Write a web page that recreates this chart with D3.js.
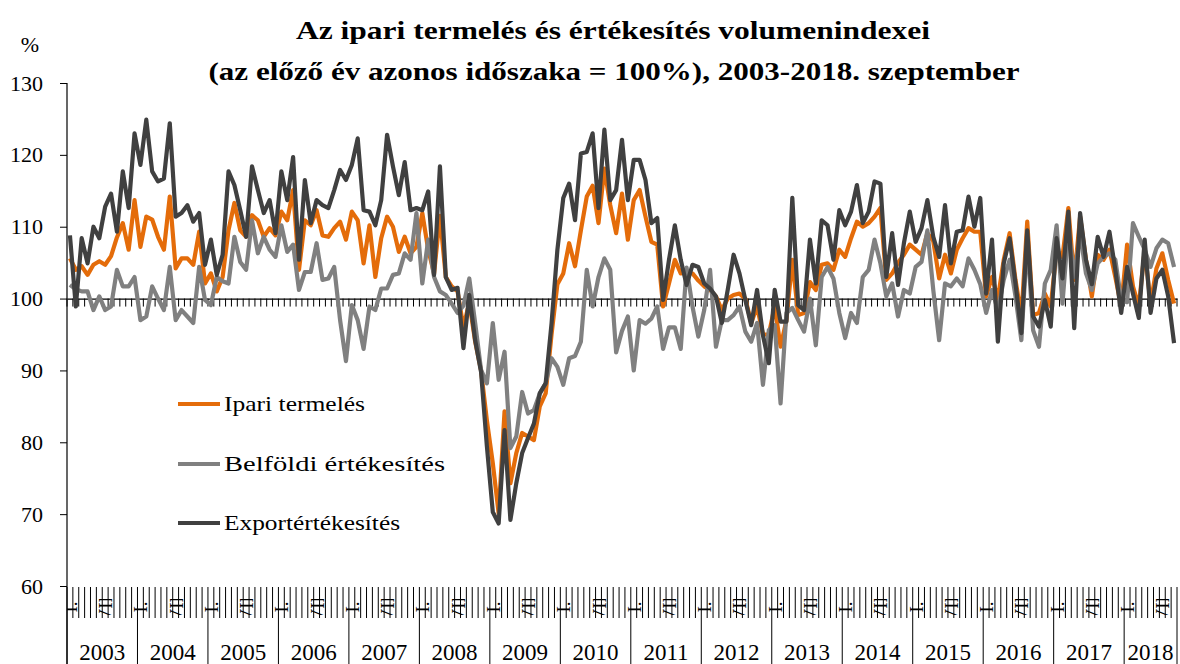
<!DOCTYPE html>
<html>
<head>
<meta charset="utf-8">
<script src="https://cdn.jsdelivr.net/npm/d3@7"></script>
<style>
  body { margin: 0; background: #fff; }
  svg text { font-family: "Liberation Serif", "Times New Roman", serif; fill: #000; }
</style>
</head>
<body>
<svg id="chart" width="1180" height="664"></svg>
<script>
// ---- data (monthly, previous year same period = 100) ----
var years = ["2003", "2004", "2005", "2006", "2007", "2008", "2009", "2010",
             "2011", "2012", "2013", "2014", "2015", "2016", "2017", "2018"];
var monthLabels = ["I.", "II.", "III.", "IV.", "V.", "VI.", "VII.", "VIII.", "IX.", "X.", "XI.", "XII."];
var yTicks = [60, 70, 80, 90, 100, 110, 120, 130];

var ipariTermeles = [
  105.6, 104.0, 104.5, 103.3, 104.7, 105.2, 104.7, 105.9, 108.5, 110.5, 106.8, 113.7,
  107.2, 111.4, 111.0, 108.6, 106.8, 114.2, 104.2, 105.6, 105.6, 104.7, 109.3, 102.1,
  103.5, 101.0, 103.0, 109.5, 113.3, 109.5, 108.6, 111.6, 110.9, 108.6, 109.8, 108.8,
  112.1, 110.9, 115.1, 104.0, 110.9, 110.2, 112.3, 108.8, 108.6, 109.8, 110.7, 108.2,
  112.1, 110.9, 104.9, 110.2, 103.0, 108.4, 111.4, 110.0, 106.5, 108.6, 106.3, 107.2,
  111.9, 106.8, 103.5, 111.5, 103.0, 101.7, 101.0, 96.0, 99.5, 94.0, 90.0, 83.0,
  77.1, 70.1, 84.3, 74.3, 78.5, 81.3, 80.8, 80.3, 85.0, 86.8, 95.0, 102.0,
  103.5, 107.7, 104.5, 109.5, 114.2, 115.7, 110.5, 118.1, 113.0, 109.1, 114.6, 108.2,
  113.7, 115.1, 111.4, 107.9, 107.5, 98.9, 102.1, 105.4, 103.5, 103.7, 103.5, 102.5,
  101.7, 101.2, 100.3, 98.4, 100.0, 100.5, 100.7, 100.0, 96.6, 98.9, 95.0, 95.0,
  98.9, 93.3, 97.0, 105.4, 97.7, 98.0, 102.3, 101.2, 104.7, 104.9, 104.0, 106.8,
  105.8, 108.4, 110.7, 110.0, 110.5, 111.4, 112.6, 102.6, 103.5, 105.0, 106.1, 107.5,
  106.8, 106.1, 109.1, 108.0, 102.8, 106.1, 103.5, 106.8, 108.4, 109.8, 109.3, 109.3,
  100.3, 103.0, 100.0, 105.4, 109.1, 102.6, 97.5, 110.7, 97.7, 98.0, 100.7, 98.9,
  106.8, 105.8, 112.6, 102.6, 111.4, 105.4, 100.3, 106.1, 105.4, 106.8, 103.0, 98.9,
  107.5, 101.7, 98.9, 106.8, 99.3, 104.2, 106.3, 102.6, 99.3
];

var belfoldiErtekesites = [
  101.9, 101.3, 101.0, 101.0, 98.4, 100.3, 98.4, 98.9, 104.0, 101.7, 101.7, 103.0,
  97.0, 97.5, 101.7, 100.0, 98.4, 104.4, 97.0, 98.4, 97.5, 96.6, 104.4, 99.8,
  99.1, 103.0, 102.4, 102.1, 108.6, 105.1, 104.0, 110.9, 106.3, 108.6, 106.8, 105.8,
  110.2, 106.5, 107.5, 101.2, 103.7, 103.7, 107.7, 102.6, 102.8, 104.4, 97.0, 91.3,
  99.1, 97.0, 93.0, 98.9, 98.4, 101.4, 101.4, 103.3, 103.5, 106.3, 105.4, 111.9,
  102.1, 108.2, 103.0, 101.0, 100.5, 99.3, 98.0, 99.0, 102.8, 96.6, 90.1, 88.2,
  96.6, 88.7, 92.6, 79.2, 80.8, 87.0, 84.0, 84.5, 86.8, 88.2, 91.7, 90.5,
  88.0, 91.7, 92.0, 94.0, 104.0, 98.9, 103.0, 105.6, 104.0, 92.5, 95.5, 97.5,
  90.0, 97.0, 96.5, 97.2, 98.9, 93.0, 96.0, 96.0, 93.0, 104.3, 98.9, 94.7,
  98.4, 104.0, 93.3, 97.0, 97.0, 97.7, 98.9, 95.4, 94.0, 96.6, 88.0, 95.6,
  96.3, 85.4, 98.0, 98.7, 97.0, 95.4, 100.0, 93.5, 103.0, 104.4, 102.8, 98.0,
  94.5, 98.0, 96.6, 103.0, 104.0, 108.2, 104.9, 100.3, 102.1, 97.5, 101.2, 100.7,
  104.4, 105.1, 109.5, 101.2, 94.2, 102.1, 101.7, 102.8, 101.7, 105.6, 104.0, 102.0,
  98.0, 101.2, 98.4, 102.6, 105.4, 100.3, 94.2, 108.2, 95.6, 93.3, 102.1, 104.0,
  110.2, 99.3, 109.8, 103.0, 109.1, 103.5, 101.2, 104.9, 105.8, 106.3, 105.4, 99.8,
  99.5, 110.5, 108.6, 106.8, 104.4, 107.0, 108.2, 107.7, 104.4
];

var exportErtekesites = [
  108.8, 98.9, 108.4, 104.9, 110.0, 108.4, 112.8, 114.6, 109.3, 117.7, 112.6, 123.0,
  118.6, 124.9, 117.7, 116.3, 116.7, 124.4, 111.4, 111.9, 113.0, 110.7, 111.9, 104.7,
  108.2, 103.3, 106.1, 117.7, 115.8, 112.3, 108.6, 118.4, 115.1, 111.9, 113.7, 109.1,
  117.7, 113.7, 119.7, 105.4, 116.5, 110.5, 113.7, 113.0, 112.6, 115.1, 117.9, 116.5,
  118.6, 122.3, 112.3, 112.1, 110.2, 113.7, 122.8, 118.4, 114.4, 119.0, 112.3, 112.6,
  112.3, 114.9, 103.3, 118.4, 103.0, 101.2, 101.5, 93.1, 100.5, 94.2, 89.8, 79.4,
  70.3, 68.7, 81.7, 69.2, 74.3, 78.5, 80.6, 82.6, 86.8, 88.2, 96.5, 106.8,
  114.0, 116.0, 110.9, 120.2, 120.4, 123.0, 112.6, 123.5, 113.7, 115.1, 122.1, 113.7,
  119.3, 119.3, 116.5, 110.5, 111.2, 99.8, 105.4, 110.2, 105.4, 101.9, 104.7, 104.4,
  102.1, 101.4, 100.3, 96.6, 101.2, 106.1, 103.5, 99.8, 96.3, 101.2, 94.9, 91.0,
  101.2, 96.8, 96.8, 114.0, 99.1, 98.4, 108.2, 102.1, 110.9, 110.2, 105.4, 112.3,
  110.2, 112.1, 115.8, 110.5, 112.1, 116.3, 116.0, 103.0, 109.1, 101.9, 107.7, 112.1,
  107.9, 109.8, 113.7, 108.6, 105.8, 113.0, 104.9, 109.3, 109.5, 114.2, 110.0, 114.0,
  100.7, 108.2, 94.0, 104.9, 108.4, 102.1, 95.2, 109.5, 97.5, 96.1, 99.8, 96.1,
  108.4, 102.8, 112.1, 95.9, 111.9, 105.4, 102.0, 108.6, 105.8, 109.3, 104.0, 98.0,
  104.4, 100.7, 97.3, 108.2, 98.0, 102.8, 104.0, 100.3, 93.8
];

var seriesNames = ["Ipari termelés", "Belföldi értékesítés", "Exportértékesítés"];
var seriesColors = ["#E46C0A", "#808080", "#404040"];

// ---- build categories (year + month) ----
var categories = ipariTermeles.map(function(d, i){
  return { key: years[Math.floor(i / 12)] + "-" + monthLabels[i % 12],
           year: years[Math.floor(i / 12)],
           month: monthLabels[i % 12],
           m: i % 12 };
});
var series = [ipariTermeles, belfoldiErtekesites, exportErtekesites].map(function(vals, s){
  return { name: seriesNames[s], color: seriesColors[s],
           values: vals.map(function(v, i){ return { key: categories[i].key, value: v }; }) };
});

var svg = d3.select("#chart");
var plot = { left: 67, right: 1177, top: 83, bottom: 586 };

var x = d3.scaleBand()
  .domain(categories.map(function(d){ return d.key; }))
  .range([plot.left, plot.right])
  .padding(0);

var y = d3.scaleLinear()
  .domain([60, 130])
  .range([plot.bottom, plot.top]);

// ---- title ----  (Palatino is not installed, so stretch the serif to the original width)
var title = svg.append("g").attr("class", "title")
  .attr("font-weight", "bold").attr("font-size", 26).attr("text-anchor", "middle");
title.append("text").attr("x", 613).attr("y", 39)
  .attr("textLength", 634).attr("lengthAdjust", "spacingAndGlyphs")
  .text("Az ipari termelés és értékesítés volumenindexei");
title.append("text").attr("x", 614).attr("y", 80)
  .attr("textLength", 811).attr("lengthAdjust", "spacingAndGlyphs")
  .text("(az előző év azonos időszaka = 100%), 2003-2018. szeptember");

svg.append("text").attr("x", 30).attr("y", 52).attr("font-size", 22)
  .attr("text-anchor", "middle").text("%");

// ---- y axis ----
var yAxis = svg.append("g")
  .attr("transform", "translate(" + plot.left + ",0)")
  .call(d3.axisLeft(y).tickValues(yTicks).tickSize(7).tickSizeOuter(0).tickPadding(17));
yAxis.select(".domain").remove();
yAxis.selectAll("line").attr("stroke", "#000");
yAxis.selectAll("text").attr("font-size", 22).attr("font-family", "Liberation Serif");

svg.append("line")
  .attr("x1", plot.left).attr("x2", plot.left)
  .attr("y1", plot.top).attr("y2", 664)
  .attr("stroke", "#000").attr("stroke-width", 1.2);

// ---- horizontal axis at 100 with month ticks ----
var xAxis = svg.append("g")
  .attr("transform", "translate(0," + y(100) + ")")
  .call(d3.axisBottom(x).tickValues([]).tickSizeOuter(0));
xAxis.select(".domain").attr("stroke", "#000").attr("stroke-width", 1.2);
xAxis.selectAll(".mtick")
  .data(categories.concat([null]))
  .enter().append("line")
  .attr("class", "mtick")
  .attr("x1", function(d, i){ return plot.left + i * x.step(); })
  .attr("x2", function(d, i){ return plot.left + i * x.step(); })
  .attr("y1", 0).attr("y2", 8)
  .attr("stroke", "#000").attr("stroke-width", 1);

// ---- category label area at the bottom (months + years) ----
var catAxis = svg.append("g").attr("class", "cat-axis");
catAxis.selectAll(".msep")
  .data(categories.concat([null]))
  .enter().append("line")
  .attr("class", "msep")
  .attr("x1", function(d, i){ return plot.left + i * x.step(); })
  .attr("x2", function(d, i){ return plot.left + i * x.step(); })
  .attr("y1", plot.bottom + 1)
  .attr("y2", function(d, i){ return (i % 12 === 0 || i === categories.length) ? 664 : 618; })
  .attr("stroke", "#000").attr("stroke-width", 1);

// month labels: rotated and cut by the label row, only I. and VII. fit
svg.append("clipPath").attr("id", "month-row")
  .append("rect").attr("x", plot.left).attr("y", 599)
  .attr("width", plot.right - plot.left).attr("height", 16);

catAxis.append("g").attr("clip-path", "url(#month-row)")
  .selectAll(".mlabel")
  .data(categories.filter(function(d){ return d.m === 0 || d.m === 6; }))
  .enter().append("text")
  .attr("class", "mlabel")
  .attr("font-size", 19)
  .attr("transform", function(d){
    return "translate(" + (x(d.key) + x.bandwidth() / 2 + 7) + "," + 607 + ") rotate(-90)";
  })
  .attr("text-anchor", "middle")
  .text(function(d){ return d.month; });

// year labels centred on their months
years.forEach(function(yr){
  var keys = categories.filter(function(d){ return d.year === yr; });
  var x0 = x(keys[0].key), x1 = x(keys[keys.length - 1].key) + x.bandwidth();
  catAxis.append("text")
    .attr("x", (x0 + x1) / 2).attr("y", 660)
    .attr("font-size", 23).attr("text-anchor", "middle")
    .text(yr);
});

// ---- lines ----
var line = d3.line()
  .x(function(d){ return x(d.key) + x.bandwidth() / 2; })
  .y(function(d){ return y(d.value); });

svg.append("g").attr("class", "series")
  .selectAll("path")
  .data(series)
  .enter().append("path")
  .attr("d", function(d){ return line(d.values); })
  .attr("fill", "none")
  .attr("stroke", function(d){ return d.color; })
  .attr("stroke-width", 4.2)
  .attr("stroke-linejoin", "round");

// ---- legend ----
var legend = svg.append("g").attr("class", "legend");
var legendY = [404, 464, 523];
var legendW = [141, 221, 176];
series.forEach(function(s, i){
  legend.append("line")
    .attr("x1", 178).attr("x2", 220)
    .attr("y1", legendY[i]).attr("y2", legendY[i])
    .attr("stroke", s.color).attr("stroke-width", 4.2);
  legend.append("text")
    .attr("x", 224).attr("y", legendY[i] + 7)
    .attr("font-size", 21)
    .attr("textLength", legendW[i]).attr("lengthAdjust", "spacingAndGlyphs")
    .text(s.name);
});
</script>
</body>
</html>
